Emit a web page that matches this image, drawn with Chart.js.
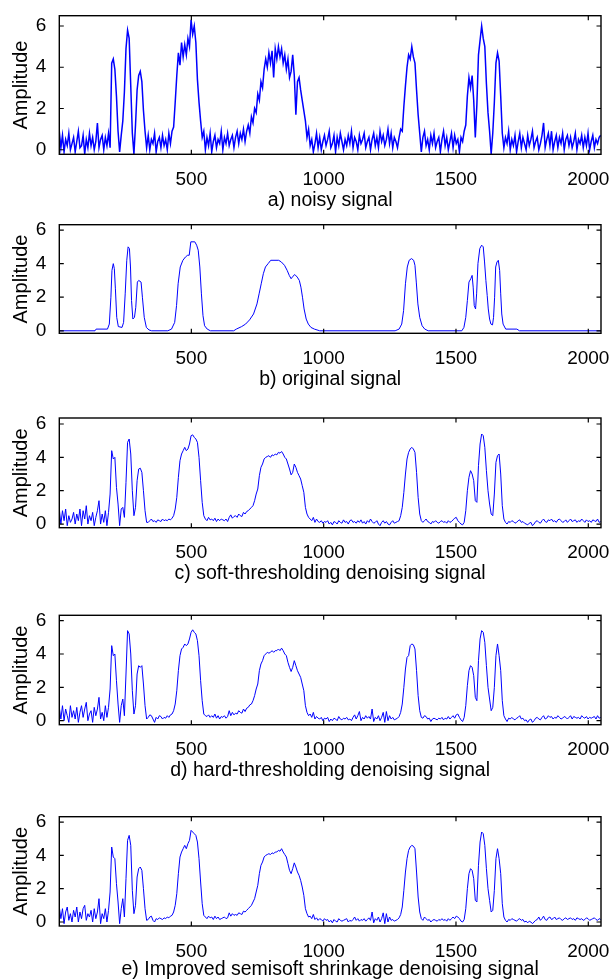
<!DOCTYPE html>
<html>
<head>
<meta charset="utf-8">
<script src="https://cdn.jsdelivr.net/npm/chart.js@4.4.1/dist/chart.umd.min.js"></script>
<style>
html,body{margin:0;padding:0;background:#fff;}
#fig{position:relative;width:611px;height:980px;overflow:hidden;background:#fff;}
#fig canvas{position:absolute;left:0;}
</style>
</head>
<body>
<div id="fig"></div>
<script>
// ---------------- DATA ----------------
const xTickValues = [500, 1000, 1500, 2000];
const yTickValues = [0, 2, 4, 6];
const captions = [
  'a) noisy signal',
  'b) original signal',
  'c) soft-thresholding denoising signal',
  'd) hard-thresholding denoising signal',
  'e) Improved semisoft shrinkage denoising signal'
];

// sample index (every 6th sample of 2048)
const sampleIndex = [
  1,7,13,19,25,31,37,43,49,55,
  61,67,73,79,85,91,97,103,109,115,
  121,127,133,139,145,151,157,163,169,175,
  181,187,193,199,205,211,217,223,229,235,
  241,247,253,259,265,271,277,283,289,295,
  301,307,313,319,325,331,337,343,349,355,
  361,367,373,379,385,391,397,403,409,415,
  421,427,433,439,445,451,457,463,469,475,
  481,487,493,499,505,511,517,523,529,535,
  541,547,553,559,565,571,577,583,589,595,
  601,607,613,619,625,631,637,643,649,655,
  661,667,673,679,685,691,697,703,709,715,
  721,727,733,739,745,751,757,763,769,775,
  781,787,793,799,805,811,817,823,829,835,
  841,847,853,859,865,871,877,883,889,895,
  901,907,913,919,925,931,937,943,949,955,
  961,967,973,979,985,991,997,1003,1009,1015,
  1021,1027,1033,1039,1045,1051,1057,1063,1069,1075,
  1081,1087,1093,1099,1105,1111,1117,1123,1129,1135,
  1141,1147,1153,1159,1165,1171,1177,1183,1189,1195,
  1201,1207,1213,1219,1225,1231,1237,1243,1249,1255,
  1261,1267,1273,1279,1285,1291,1297,1303,1309,1315,
  1321,1327,1333,1339,1345,1351,1357,1363,1369,1375,
  1381,1387,1393,1399,1405,1411,1417,1423,1429,1435,
  1441,1447,1453,1459,1465,1471,1477,1483,1489,1495,
  1501,1507,1513,1519,1525,1531,1537,1543,1549,1555,
  1561,1567,1573,1579,1585,1591,1597,1603,1609,1615,
  1621,1627,1633,1639,1645,1651,1657,1663,1669,1675,
  1681,1687,1693,1699,1705,1711,1717,1723,1729,1735,
  1741,1747,1753,1759,1765,1771,1777,1783,1789,1795,
  1801,1807,1813,1819,1825,1831,1837,1843,1849,1855,
  1861,1867,1873,1879,1885,1891,1897,1903,1909,1915,
  1921,1927,1933,1939,1945,1951,1957,1963,1969,1975,
  1981,1987,1993,1999,2005,2011,2017,2023,2029,2035,
  2041,2047
];

// a) noisy signal
const noisySignal = [
  0.9,0.1,0.7,-0.1,0.5,0.2,0.8,0.0,0.3,0.6,
  -0.1,0.4,0.9,0.1,0.2,0.7,-0.2,0.5,0.1,0.8,
  0.2,0.6,0.0,0.4,1.3,0.1,0.5,0.7,0.0,0.6,
  0.2,0.8,0.1,
  4.2,4.4,3.9,2.6,0.9,-0.1,0.7,1.4,2.8,4.9,5.8,5.4,3.1,0.8,-0.2,1.2,2.9,3.6,3.8,3.3,1.9,0.9,0.1,
  0.7,0.0,0.5,0.3,0.8,-0.1,0.4,0.6,0.1,0.7,0.2,0.5,0.0,0.8,0.3,0.9,
  1.1,2.3,3.6,4.7,4.1,5.2,4.5,5.1,4.6,5.4,5.0,6.3,5.6,6.0,5.2,3.4,2.3,1.4,0.6,0.9,0.0,
  0.6,0.2,0.8,-0.1,0.4,0.7,0.1,0.5,0.3,0.9,0.0,0.6,0.3,0.8,0.2,0.5,0.7,0.1,0.6,0.9,0.3,0.8,0.5,1.0,0.4,0.9,
  1.2,0.8,1.6,1.3,2.0,1.8,2.7,2.4,3.3,3.0,
  3.9,4.4,4.0,4.7,4.2,4.8,3.5,4.9,4.4,5.0,
  4.5,4.9,4.2,4.6,3.9,4.4,3.5,3.8,4.6,3.6,
  1.7,3.3,3.5,2.9,2.4,1.9,1.4,0.6,1.0,0.2,
  0.5,-0.1,0.3,0.8,0.1,0.6,0.0,0.4,0.7,0.2,
  0.5,0.9,0.1,0.3,0.7,-0.1,0.6,0.2,0.8,0.4,
  0.0,0.5,0.2,0.7,0.3,0.9,0.1,0.6,0.4,0.0,
  0.7,0.3,0.5,0.8,0.1,0.4,0.6,0.0,0.5,0.8,
  0.2,0.6,0.1,0.9,0.4,0.7,0.2,0.5,1.0,0.3,
  0.8,0.1,0.6,0.4,0.1,
  0.6,1.0,0.9,2.1,3.1,4.0,4.6,4.4,5.0,4.5,4.2,2.9,1.7,0.8,-0.1,0.6,
  0.9,0.2,0.5,0.0,0.7,0.3,0.8,0.1,0.4,0.6,
  -0.1,0.5,0.9,0.2,0.6,0.0,0.4,0.8,0.1,0.7,
  0.3,0.5,-0.1,0.6,0.4,0.9,
  1.2,2.6,3.5,3.0,3.6,2.4,0.6,2.2,4.6,5.3,
  6.0,5.4,5.0,3.2,1.8,0.9,-0.2,0.8,2.3,4.2,
  4.7,4.3,2.6,0.8,0.1,
  0.6,0.3,0.9,0.0,0.5,0.2,0.7,-0.1,0.4,0.8,
  0.1,0.6,0.3,0.0,0.7,0.2,0.5,0.9,0.1,0.4,
  0.6,0.0,0.3,0.7,1.3,0.1,0.5,0.8,0.2,0.9,
  0.0,0.4,0.7,0.1,0.6,0.3,0.8,0.0,0.5,0.7,
  0.2,0.6,0.1,0.4,0.8,0.0,0.5,0.3,0.7,0.1,
  0.6,0.2,0.8,0.0,0.4,0.7,0.1,0.5,0.3,0.6,0.7
];

// b) original signal (breakpoints)
const originalX = [
  1,136,140,183,190,196,200,205,209,213,218,224,238,244,250,256,261,266,270,274,
  279,285,290,296,301,310,315,322,330,340,350,411,425,437,444,450,458,468,478,486,
  492,498,513,520,526,532,538,544,550,560,572,660,670,690,705,720,735,748,756,764,
  772,780,790,800,830,840,852,862,870,877,884,891,900,908,914,920,926,934,942,952,
  965,985,1270,1285,1295,1302,1309,1316,1323,1332,1340,1345,1350,1356,1363,1372,1382,1395,1522,1530,
  1537,1543,1549,1556,1561,1565,1569,1574,1578,1583,1590,1597,1603,1608,1613,1618,1622,1627,1632,1638,
  1642,1646,1650,1655,1660,1665,1669,1673,1678,1688,1730,1740,2048
];
const originalY = [
  0,0,0.1,0.1,0.4,2.0,3.6,4.0,3.7,2.5,0.8,0.25,0.2,0.5,2.2,4.2,5.0,4.9,3.8,1.8,
  0.7,0.8,1.4,2.9,3.0,2.9,2.0,0.8,0.2,0.05,0,0,0.1,0.5,1.5,2.8,3.8,4.2,4.4,4.5,
  4.5,5.3,5.3,5.1,4.8,3.8,2.2,0.9,0.3,0.1,0,0,0.1,0.25,0.4,0.65,1.0,1.6,2.2,2.8,
  3.4,3.8,4.0,4.2,4.2,4.1,3.9,3.6,3.3,3.1,3.25,3.35,3.2,3.0,2.6,2.0,1.3,0.7,0.4,0.2,
  0.1,0,0,0.1,0.4,1.2,2.8,3.8,4.2,4.3,4.2,3.9,2.9,1.6,0.8,0.3,0.1,0,0,0.2,
  0.8,1.8,2.9,3.1,3.3,2.6,1.5,1.3,2.2,4.0,4.9,5.1,5.0,4.1,3.0,2.1,1.3,0.7,0.4,0.35,
  0.8,2.0,3.8,4.1,4.2,3.6,2.2,1.0,0.4,0.1,0.1,0,0
];

// c) soft-thresholding denoising
const softSignal = [
  0.9,0.0,0.8,0.2,0.9,-0.1,0.5,0.1,0.3,0.7,
  0.0,0.6,0.2,0.9,-0.1,0.8,0.3,1.1,0.0,0.5,
  0.2,0.7,-0.1,0.4,0.8,1.4,0.0,0.6,0.1,0.8,
  -0.1,0.7,
  1.8,4.4,3.9,4.0,2.2,1.2,-0.1,0.9,1.0,0.4,2.5,4.9,5.1,4.2,2.0,0.5,1.0,2.6,3.3,3.35,3.1,2.0,0.8,0.1,
  0.1,0.2,0.3,0.15,0.2,0.1,0.25,0.2,0.15,0.3,0.2,0.25,0.2,0.3,0.25,0.35,
  0.5,0.9,1.6,2.8,3.8,4.2,4.4,4.6,4.4,4.5,4.8,5.3,5.35,5.2,5.1,4.9,4.0,2.6,1.3,0.5,0.3,
  0.2,0.4,0.25,0.3,0.2,0.35,0.15,0.3,0.2,0.3,0.25,0.2,0.3,0.15,0.4,0.55,0.35,0.45,0.5,0.4,0.6,0.5,0.45,0.7,0.6,0.75,
  0.8,0.9,1.0,1.1,1.4,1.8,2.1,2.9,3.4,3.6,
  3.9,4.0,4.05,4.1,4.0,4.15,4.1,4.2,4.15,4.3,
  4.25,4.35,4.2,4.0,3.9,3.6,3.3,2.95,3.1,3.6,
  3.4,3.1,2.9,2.7,2.3,1.9,1.0,0.6,0.4,0.3,
  0.2,0.4,0.1,0.3,0.15,0.1,0.2,0.05,0.15,0.1,
  0.2,0.0,0.1,-0.05,0.15,0.1,0.0,0.2,0.1,0.05,
  0.25,0.1,0.15,0.0,0.2,0.25,0.1,0.15,0.05,0.2,
  0.1,0.25,0.05,0.15,0.0,0.2,0.1,0.3,0.15,0.05,
  0.1,0.2,0.0,-0.1,0.1,0.2,0.05,0.15,0.0,-0.05,
  0.1,0.2,0.05,0.1,0.15,
  0.2,0.5,1.0,1.9,3.0,3.9,4.3,4.5,4.6,4.5,4.3,3.1,1.6,0.6,0.2,0.1,
  0.2,0.3,0.15,0.1,0.0,0.15,0.1,0.2,0.1,0.05,
  0.15,0.2,0.1,0.15,0.05,0.2,0.1,0.15,0.25,0.35,
  0.4,0.2,0.1,0.0,-0.05,0.1,
  0.8,2.0,2.8,3.2,3.0,2.6,1.4,1.3,3.5,4.8,
  5.4,5.3,4.6,3.2,2.0,1.2,0.6,0.5,1.8,3.7,
  4.1,4.2,3.0,1.1,0.3,
  0.1,0.0,0.15,0.1,0.2,0.15,0.05,0.1,0.2,0.25,
  0.1,0.15,0.05,0.0,-0.05,0.05,0.1,-0.1,0.0,0.15,
  0.2,0.1,0.05,0.2,0.3,0.15,0.1,0.25,0.2,0.3,
  0.15,0.2,0.1,0.25,0.3,0.2,0.1,0.15,0.25,0.1,
  0.2,0.3,0.15,0.2,0.25,0.1,0.2,0.15,0.3,0.2,
  0.1,0.25,0.15,0.2,0.1,0.25,0.2,0.15,0.3,0.1,0.15
];

// d) hard-thresholding denoising
const hardSignal = [
  0.8,0.1,0.9,0.0,0.7,0.3,-0.1,0.9,0.2,0.6,
  0.1,0.8,-0.1,0.5,0.9,0.2,0.7,1.1,0.0,0.4,
  0.6,-0.1,0.8,0.3,0.7,1.4,0.1,0.5,0.0,0.9,
  0.2,0.8,
  1.9,4.5,3.9,4.0,2.4,1.0,-0.1,0.9,1.3,0.3,2.8,5.4,5.2,4.0,1.8,0.4,0.9,2.8,3.3,3.2,3.3,2.2,0.9,0.1,
  0.2,0.35,0.3,0.1,-0.1,0.2,0.1,0.3,0.25,0.1,0.2,0.15,0.3,0.2,0.35,0.4,
  0.6,1.0,1.8,3.0,3.9,4.3,4.4,4.6,4.5,4.6,4.9,5.3,5.45,5.3,5.2,4.8,3.9,2.4,1.2,0.4,0.3,
  0.25,0.35,0.2,0.3,0.2,0.4,0.15,0.3,0.1,0.25,0.2,0.3,0.15,0.25,0.6,0.3,0.5,0.35,0.45,0.4,0.6,0.5,0.45,0.7,0.55,0.75,
  0.8,0.95,1.0,1.2,1.5,1.9,2.2,3.0,3.4,3.6,
  3.9,4.0,4.1,4.05,4.1,4.2,4.1,4.2,4.2,4.3,
  4.2,4.35,4.2,4.0,3.9,3.5,3.2,2.95,3.2,3.6,
  3.3,3.0,2.8,2.6,2.2,1.8,0.9,0.5,0.3,0.4,
  0.2,0.5,0.1,0.25,0.15,0.1,0.2,0.0,0.15,0.1,
  0.2,-0.05,0.1,0.0,0.15,0.1,0.0,0.25,0.1,0.05,
  0.15,0.1,0.2,0.05,0.1,0.0,0.2,0.35,0.1,0.3,
  0.55,0.0,0.2,0.1,0.3,0.15,0.25,0.1,0.7,-0.05,
  0.2,0.1,0.3,0.0,0.2,0.5,-0.1,0.55,0.0,0.3,
  0.1,0.2,0.05,0.1,0.15,
  0.25,0.5,1.0,2.0,3.1,3.8,3.9,4.5,4.6,4.55,4.3,3.0,1.5,0.6,0.2,0.15,
  0.3,0.25,0.1,0.15,-0.05,0.1,0.15,0.1,0.05,0.15,
  0.1,0.2,0.05,0.15,0.1,0.25,0.1,0.2,0.3,0.15,
  0.35,0.4,0.2,0.05,-0.05,0.2,
  0.9,2.1,3.0,3.3,3.2,2.7,1.4,1.2,3.6,4.9,
  5.4,5.3,4.7,3.3,2.0,1.3,0.6,0.8,2.0,3.9,
  4.6,3.9,3.0,1.2,0.3,
  0.1,-0.05,0.15,0.1,0.2,0.1,0.05,0.15,0.2,0.3,
  0.1,0.15,0.0,0.05,-0.1,0.05,0.1,-0.1,0.0,0.15,
  0.2,0.1,0.05,0.2,0.3,0.1,0.15,0.3,0.2,0.25,
  0.1,0.2,0.15,0.3,0.2,0.1,0.15,0.25,0.2,0.1,
  0.2,0.3,0.1,0.25,0.2,0.15,0.2,0.1,0.3,0.2,
  0.15,0.25,0.1,0.2,0.15,0.2,0.25,0.1,0.3,0.15,0.2
];

// e) improved semisoft shrinkage denoising
const semisoftSignal = [
  0.9,0.2,0.8,-0.1,0.6,0.9,0.1,0.5,0.0,0.7,
  0.3,0.9,0.0,0.6,0.2,0.8,1.0,0.1,0.5,0.3,
  0.7,0.0,0.8,0.2,0.6,1.4,-0.1,0.5,0.2,0.8,
  0.0,0.7,
  1.8,4.5,3.9,3.8,2.3,1.2,-0.1,0.8,1.4,0.3,2.6,4.9,5.2,4.6,1.9,0.5,1.0,2.7,3.2,3.3,3.1,2.0,0.8,0.1,
  0.15,0.3,0.35,0.1,0.0,0.2,0.15,0.25,0.2,0.15,0.25,0.2,0.3,0.25,0.35,0.4,
  0.6,1.0,1.7,2.9,3.9,4.2,4.4,4.6,4.4,4.7,4.9,5.5,5.4,5.3,5.2,4.8,3.8,2.4,1.1,0.4,0.3,
  0.2,0.35,0.25,0.3,0.15,0.35,0.2,0.3,0.15,0.2,0.25,0.3,0.2,0.25,0.55,0.35,0.5,0.4,0.45,0.4,0.55,0.5,0.45,0.65,0.6,0.7,
  0.8,0.9,1.0,1.2,1.4,1.8,2.2,2.9,3.4,3.6,
  3.9,4.0,4.05,4.1,4.05,4.15,4.1,4.2,4.2,4.3,
  4.25,4.4,4.2,4.05,3.9,3.5,3.1,2.9,3.2,3.55,
  3.3,3.0,2.8,2.5,2.1,1.6,0.8,0.5,0.3,0.35,
  0.2,0.45,0.15,0.25,0.1,0.2,0.15,0.05,0.2,0.1,
  0.15,0.0,0.1,-0.05,0.15,0.05,0.0,0.2,0.1,0.05,
  0.1,0.15,0.2,0.0,0.1,0.05,0.15,0.3,0.1,0.2,
  0.05,0.15,0.1,0.2,0.05,0.15,0.25,0.1,0.6,-0.05,
  0.2,0.1,0.3,0.0,0.2,0.55,-0.1,0.5,0.0,0.3,
  0.1,0.15,0.05,0.1,0.15,
  0.25,0.45,0.9,1.9,3.0,3.8,4.3,4.5,4.6,4.55,4.4,3.0,1.5,0.6,0.2,0.1,
  0.3,0.2,0.1,0.15,0.0,0.1,0.15,0.1,0.05,0.15,
  0.1,0.2,0.1,0.15,0.05,0.2,0.1,0.2,0.3,0.2,
  0.35,0.3,0.2,0.05,0.0,0.15,
  0.8,2.0,2.9,3.2,3.1,2.6,1.3,1.2,3.4,4.8,
  5.4,5.3,4.6,3.2,2.0,1.3,0.6,0.7,1.9,3.8,
  4.4,3.8,2.9,1.1,0.3,
  0.1,0.0,0.15,0.1,0.2,0.15,0.1,0.05,0.15,0.2,
  0.1,0.15,0.0,0.05,-0.05,0.05,0.0,-0.1,0.0,0.1,
  0.15,0.3,0.1,0.2,0.35,0.15,0.1,0.25,0.3,0.15,
  0.2,0.3,0.15,0.2,0.25,0.15,0.1,0.2,0.25,0.15,
  0.2,0.25,0.15,0.2,0.1,0.25,0.2,0.15,0.2,0.1,
  0.15,0.25,0.2,0.1,0.15,0.2,0.25,0.15,0.1,0.2,0.15
];

// ---------------- LAYOUT / STYLE ----------------
const FONT = "'Liberation Sans', Arial, Helvetica, sans-serif";
const TICK_SIZE = 19;
const CAP_SIZE = 19.5;
const YTITLE_SIZE = 20;
const LINE_BLUE = '#0000ff';

const panels = [
  {xs: sampleIndex, ys: noisySignal,    cap: captions[0], yMin: -0.22, yMax: 6.5,  boxTop: 15.7,  boxBottom: 154.3, capMid: 200.2, lw: 1.5},
  {xs: originalX,   ys: originalY,      cap: captions[1], yMin: -0.15, yMax: 6.32, boxTop: 224.7, boxBottom: 333.3, capMid: 379.3, lw: 1},
  {xs: sampleIndex, ys: softSignal,     cap: captions[2], yMin: -0.22, yMax: 6.36, boxTop: 418.0, boxBottom: 527.7, capMid: 573.7, lw: 1},
  {xs: sampleIndex, ys: hardSignal,     cap: captions[3], yMin: -0.24, yMax: 6.32, boxTop: 615.3, boxBottom: 724.7, capMid: 770.7, lw: 1},
  {xs: sampleIndex, ys: semisoftSignal, cap: captions[4], yMin: -0.24, yMax: 6.32, boxTop: 816.7, boxBottom: 926.0, capMid: 969.7, lw: 1}
];

const PLOT_LEFT = 59.3;
const PLOT_RIGHT = 601;
const FIG_W = 611;

const matlabBox = {
  id: 'matlabBox',
  afterDatasetsDraw(chart) {
    const {ctx, chartArea, scales} = chart;
    const {left, right, top, bottom} = chartArea;
    const tl = 4.5;
    ctx.save();
    ctx.strokeStyle = '#000';
    ctx.lineWidth = 1.2;
    ctx.beginPath();
    scales.x.ticks.forEach(t => {
      const px = scales.x.getPixelForValue(t.value);
      ctx.moveTo(px, bottom); ctx.lineTo(px, bottom - tl);
      ctx.moveTo(px, top);    ctx.lineTo(px, top + tl);
    });
    scales.y.ticks.forEach(t => {
      const py = scales.y.getPixelForValue(t.value);
      ctx.moveTo(left, py);  ctx.lineTo(left + tl, py);
      ctx.moveTo(right, py); ctx.lineTo(right - tl, py);
    });
    ctx.stroke();
    ctx.lineWidth = 1.4;
    ctx.strokeRect(left, top, right - left, bottom - top);
    ctx.restore();
  }
};

const fig = document.getElementById('fig');
const capLH = CAP_SIZE * 1.2;

panels.forEach(p => {
  if (p.xs.length !== p.ys.length) console.warn('length mismatch', p.cap, p.xs.length, p.ys.length);
  const canvasTop = Math.floor(p.boxTop) - 10;
  const padTop = p.boxTop - canvasTop;
  const contentBottom = p.capMid + capLH / 2 - canvasTop;
  const canvasH = Math.ceil(contentBottom) + 1;
  const padBottom = canvasH - contentBottom;
  const xAxisH = p.capMid + capLH / 2 - p.boxBottom;

  const cv = document.createElement('canvas');
  cv.width = FIG_W; cv.height = canvasH;
  cv.style.width = FIG_W + 'px'; cv.style.height = canvasH + 'px';
  cv.style.top = canvasTop + 'px';
  fig.appendChild(cv);

  const pts = p.xs.map((x, i) => ({x: x, y: p.ys[i]}));

  new Chart(cv, {
    type: 'line',
    data: {
      datasets: [{
        data: pts,
        borderColor: LINE_BLUE,
        borderWidth: p.lw,
        pointRadius: 0,
        tension: 0,
        fill: false
      }]
    },
    options: {
      responsive: false,
      animation: false,
      events: [],
      parsing: false,
      normalized: true,
      layout: {padding: {top: padTop, bottom: padBottom, left: 0, right: FIG_W - PLOT_RIGHT}},
      plugins: {legend: {display: false}, tooltip: {enabled: false}},
      scales: {
        x: {
          type: 'linear',
          min: 1, max: 2048,
          grid: {display: false},
          border: {display: false},
          afterBuildTicks: s => { s.ticks = xTickValues.map(v => ({value: v})); },
          afterFit: s => {
            s.height = xAxisH;
            s.paddingLeft = 0; s.paddingRight = 0; s.paddingTop = 0; s.paddingBottom = 0;
          },
          ticks: {
            color: '#000', padding: 6, maxRotation: 0, autoSkip: false,
            font: {family: FONT, size: TICK_SIZE},
            callback: v => String(v)
          },
          title: {
            display: true, text: p.cap, color: '#000',
            font: {family: FONT, size: CAP_SIZE},
            padding: {top: 0, bottom: 0}
          }
        },
        y: {
          type: 'linear',
          min: p.yMin, max: p.yMax,
          grid: {display: false},
          border: {display: false},
          afterBuildTicks: s => { s.ticks = yTickValues.map(v => ({value: v})); },
          afterFit: s => {
            s.width = PLOT_LEFT;
            s.paddingLeft = 0; s.paddingRight = 0; s.paddingTop = 0; s.paddingBottom = 0;
          },
          ticks: {
            color: '#000', padding: 5,
            font: {family: FONT, size: TICK_SIZE},
            callback: v => String(v)
          },
          title: {
            display: true, text: 'Amplitude', color: '#000',
            font: {family: FONT, size: YTITLE_SIZE},
            padding: {top: 9.5, bottom: 0}
          }
        }
      }
    },
    plugins: [matlabBox]
  });
});
</script>
</body>
</html>
